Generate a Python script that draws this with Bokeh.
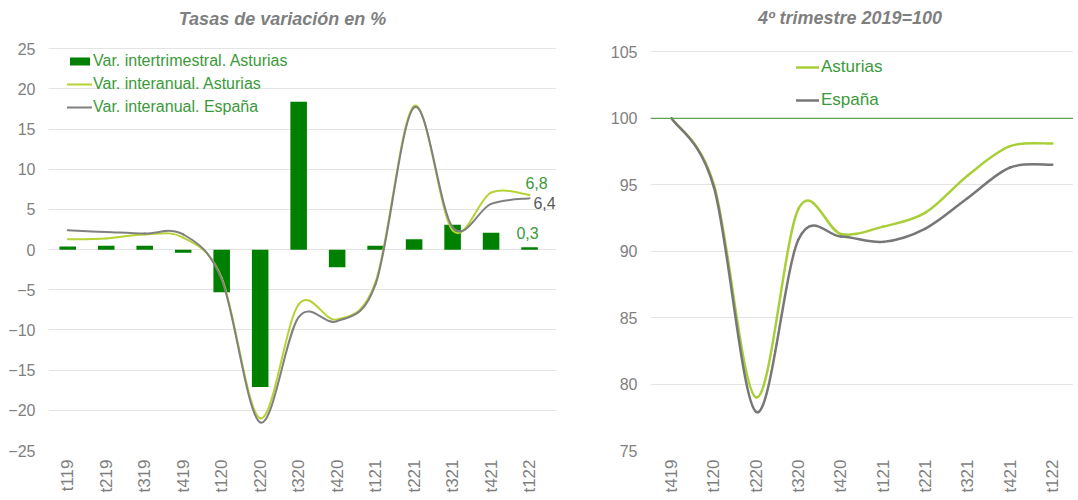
import math
from bokeh.plotting import figure
from bokeh.models import Range1d, FixedTicker, Legend, LegendItem, Label, Span
from bokeh.layouts import row
from bokeh.embed import file_html
from bokeh.resources import INLINE

# ---------------- data ----------------
quarters_left = ["t119", "t219", "t319", "t419", "t120", "t220", "t320",
                 "t420", "t121", "t221", "t321", "t421", "t122"]
var_intertrim_ast = [0.4, 0.5, 0.5, -0.4, -5.3, -17.1, 18.4, -2.2, 0.5, 1.3, 3.1, 2.1, 0.3]
var_interanual_ast = [1.3, 1.4, 1.9, 1.5, -3.5, -21.0, -6.8, -8.7, -4.0, 17.9, 2.4, 7.1, 6.8]
var_interanual_esp = [2.4, 2.2, 2.0, 1.9, -3.7, -21.5, -8.4, -8.9, -4.3, 17.7, 2.8, 5.7, 6.4]

quarters_right = ["t419", "t120", "t220", "t320", "t420", "t121", "t221", "t321", "t421", "t122"]
indice_ast = [100, 95.0, 79.0, 93.2, 91.3, 91.85, 92.9, 95.7, 97.9, 98.1]
indice_esp = [100, 94.8, 77.9, 90.9, 91.1, 90.7, 91.7, 94.0, 96.3, 96.5]

title_left = "Tasas de variación en %"
title_right = "4º trimestre 2019=100"

FONT = "Liberation Sans"
GREEN_BAR = "#008000"
YELLOW = "#B5D334"
GRAY = "#808080"
TEXT_GREEN = "#3A9A3A"
AXIS_TXT = "#7F7F7F"
GRID = "#E4E4E4"

H = 498


def smooth(xs, ys):
    """Bezier control points for an Excel-like smoothed line through the data."""
    n = len(xs)
    d = dict(x0=[], y0=[], x1=[], y1=[], cx0=[], cy0=[], cx1=[], cy1=[])
    for i in range(n - 1):
        xa, ya = (xs[i - 1], ys[i - 1]) if i > 0 else (xs[i], ys[i])
        xb, yb = xs[i], ys[i]
        xc, yc = xs[i + 1], ys[i + 1]
        xd, yd = (xs[i + 2], ys[i + 2]) if i + 2 < n else (xc, yc)
        d["x0"].append(xb); d["y0"].append(yb)
        d["x1"].append(xc); d["y1"].append(yc)
        d["cx0"].append(xb + (xc - xa) / 6); d["cy0"].append(yb + (yc - ya) / 6)
        d["cx1"].append(xc - (xd - xb) / 6); d["cy1"].append(yc - (yd - yb) / 6)
    return d


def style(p, labels, yticks):
    p.outline_line_color = None
    p.background_fill_color = "white"
    p.border_fill_color = "white"
    p.xgrid.visible = False
    p.ygrid.grid_line_color = GRID
    p.ygrid.grid_line_width = 1
    p.yaxis.ticker = FixedTicker(ticks=yticks)
    p.xaxis.ticker = FixedTicker(ticks=list(range(len(labels))))
    p.xaxis.major_label_overrides = {i: q for i, q in enumerate(labels)}
    p.xaxis.major_label_orientation = math.pi / 2
    for ax in (p.xaxis, p.yaxis):
        ax.axis_line_color = None
        ax.major_tick_line_color = None
        ax.minor_tick_line_color = None
        ax.major_tick_out = 0
        ax.major_tick_in = 0
        ax.minor_tick_out = 0
        ax.minor_tick_in = 0
        ax.major_label_text_font = FONT
        ax.major_label_text_color = AXIS_TXT
    p.yaxis.major_label_text_font_size = "16px"
    p.xaxis.major_label_text_font_size = "17px"
    p.yaxis.major_label_standoff = 13
    p.xaxis.major_label_standoff = 9


def add_title(p, text, x_px, y_px, frame_left, px_per_x, x_start, frame_bottom, px_per_y, y_start):
    # place the chart title (screen position converted to data units of the frame)
    p.add_layout(Label(x=x_start + (x_px - frame_left) / px_per_x,
                       y=y_start + (frame_bottom - y_px) / px_per_y,
                       text=text, text_align="center", text_baseline="middle",
                       text_font=FONT, text_font_size="18px", text_font_style="bold italic",
                       text_color=AXIS_TXT))


# ---------------- left chart ----------------
L_LEFT, L_RIGHT, L_BOTTOM, L_TOPTICK = 48, 556, 450, 48.3
l_ymin, l_ymax = -25, 25
l_ppu = (L_BOTTOM - L_TOPTICK) / (l_ymax - l_ymin)
l_yend = l_ymax + L_TOPTICK / l_ppu
xl = list(range(len(quarters_left)))
l_xstart, l_xend = -0.5, 12.7
p1 = figure(width=563, height=H, x_range=Range1d(l_xstart, l_xend), y_range=Range1d(l_ymin, l_yend),
            output_backend="svg", toolbar_location=None,
            min_border_left=L_LEFT, min_border_right=563 - L_RIGHT, min_border_top=0,
            min_border_bottom=H - L_BOTTOM)
style(p1, quarters_left, list(range(-25, 30, 5)))

bars = p1.vbar(x=xl, top=var_intertrim_ast, width=0.43, fill_color=GREEN_BAR, line_color=None)
c_ast = p1.bezier(**smooth(xl, var_interanual_ast), line_color=YELLOW, line_width=2, line_cap="round")
c_esp = p1.bezier(**smooth(xl, var_interanual_esp), line_color=GRAY, line_width=2, line_cap="round")

legend1 = Legend(items=[LegendItem(label="Var. intertrimestral. Asturias", renderers=[bars]),
                        LegendItem(label="Var. interanual. Asturias", renderers=[c_ast]),
                        LegendItem(label="Var. interanual. España", renderers=[c_esp])],
                 location=(19, 333), glyph_width=25, glyph_height=10, label_standoff=1,
                 spacing=3, padding=0, margin=0, label_height=20,
                 label_text_font=FONT, label_text_font_size="16px", label_text_color=TEXT_GREEN,
                 background_fill_alpha=0, border_line_color=None)
p1.add_layout(legend1)

fmt = lambda v: f"{v:.1f}".replace(".", ",")
p1.add_layout(Label(x=xl[-1], y=var_interanual_ast[-1], text=fmt(var_interanual_ast[-1]),
                    x_offset=7, y_offset=12, text_align="center", text_baseline="middle",
                    text_font=FONT, text_font_size="16px", text_color=TEXT_GREEN))
p1.add_layout(Label(x=xl[-1], y=var_interanual_esp[-1], text=fmt(var_interanual_esp[-1]),
                    x_offset=15, y_offset=-5, text_align="center", text_baseline="middle",
                    text_font=FONT, text_font_size="16px", text_color="#595959"))
p1.add_layout(Label(x=xl[-1], y=var_intertrim_ast[-1], text=fmt(var_intertrim_ast[-1]),
                    x_offset=-2, y_offset=14, text_align="center", text_baseline="middle",
                    text_font=FONT, text_font_size="16px", text_color=TEXT_GREEN))
add_title(p1, title_left, 282, 18, L_LEFT, (L_RIGHT - L_LEFT) / (l_xend - l_xstart), l_xstart,
          L_BOTTOM, l_ppu, l_ymin)

# ---------------- right chart ----------------
R_W = 510
R_LEFT, R_BOTTOM, R_TOPTICK = 87, 453, 51.7
r_ymin, r_ymax = 75, 105
r_ppu = (R_BOTTOM - R_TOPTICK) / (r_ymax - r_ymin)
r_yend = r_ymax + R_TOPTICK / r_ppu
xr = list(range(len(quarters_right)))
r_xstart, r_xend = -0.5, 9.5
p2 = figure(width=R_W, height=H, x_range=Range1d(r_xstart, r_xend), y_range=Range1d(r_ymin, r_yend),
            output_backend="svg", toolbar_location=None,
            min_border_left=R_LEFT, min_border_right=0, min_border_top=0, min_border_bottom=H - R_BOTTOM)
style(p2, quarters_right, list(range(75, 110, 5)))

p2.add_layout(Span(location=100, dimension="width", line_color="#5FA04E", line_width=1.2))
c2_ast = p2.bezier(**smooth(xr, indice_ast), line_color="#A8CF38", line_width=2.5, line_cap="round")
c2_esp = p2.bezier(**smooth(xr, indice_esp), line_color="#777777", line_width=2.5, line_cap="round")
legend2 = Legend(items=[LegendItem(label="Asturias", renderers=[c2_ast]),
                        LegendItem(label="España", renderers=[c2_esp])],
                 location=(146, 340), glyph_width=23, glyph_height=10, label_standoff=2,
                 spacing=13, padding=0, margin=0, label_height=20,
                 label_text_font=FONT, label_text_font_size="17px", label_text_color=TEXT_GREEN,
                 background_fill_alpha=0, border_line_color=None)
p2.add_layout(legend2)
add_title(p2, title_right, 849.5 - 563, 18, R_LEFT, (R_W - R_LEFT) / (r_xend - r_xstart), r_xstart,
          R_BOTTOM, r_ppu, r_ymin)

layout = row(p1, p2)
open("out.html", "w").write(file_html(layout, INLINE))
